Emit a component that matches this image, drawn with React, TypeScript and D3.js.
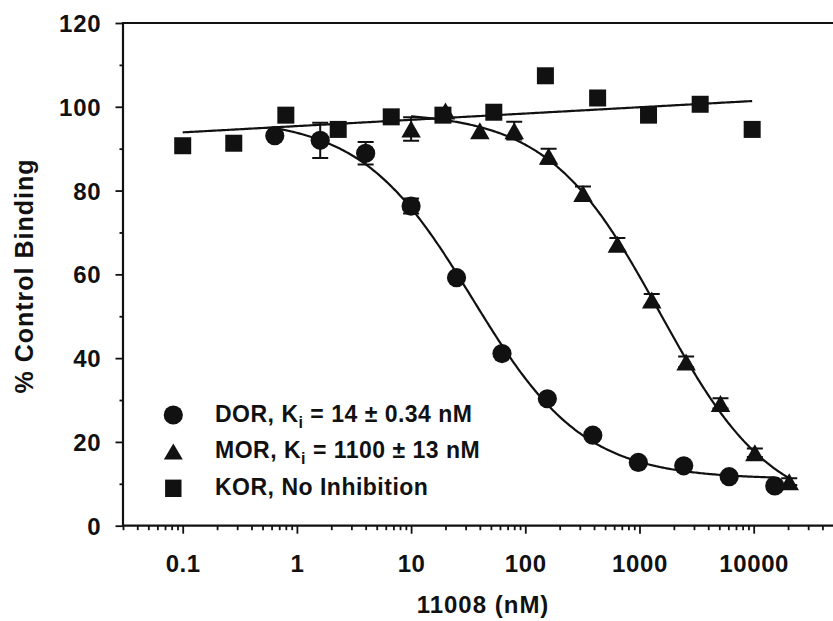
import React, { useEffect, useRef } from "react";
import * as d3 from "d3";

// concentrations (nM) and % control binding
const dorConc = [0.64, 1.6, 4, 10, 25, 62.5, 156, 390, 977, 2440, 6100, 15300];
const dorBinding = [93.1, 92.0, 88.9, 76.3, 59.2, 41.1, 30.3, 21.6, 15.1, 14.3, 11.7, 9.5];
const dorErr = [0, 4.2, 2.7, 1.8, 0, 0, 0, 0, 0, 0, 0, 0];

const morConc = [10, 20, 40, 80, 160, 320, 640, 1280, 2560, 5120, 10240, 20480];
const morBinding = [94.7, 99.0, 94.3, 94.3, 88.2, 79.3, 67.2, 53.9, 39.1, 29.2, 17.4, 10.5];
const morErr = [2.8, 0, 0, 2.1, 1.8, 1.7, 1.5, 1.4, 1.3, 1.2, 1.0, 0.8];

const korConc = [0.1, 0.28, 0.8, 2.3, 6.7, 19, 53, 150, 430, 1200, 3400, 9700];
const korBinding = [90.7, 91.3, 98.0, 94.6, 97.6, 98.0, 98.7, 107.4, 102.1, 98.0, 100.6, 94.6];

const xTicks = [0.1, 1, 10, 100, 1000, 10000];
const xTickLabels = ["0.1", "1", "10", "100", "1000", "10000"];
const yTicks = [0, 20, 40, 60, 80, 100, 120];
const yMinorTicks = [10, 30, 50, 70, 90, 110];

const legendNames = ["DOR, K", "MOR, K", "KOR, No Inhibition"];
const legendTails = [" = 14 ± 0.34 nM", " = 1100 ± 13 nM", ""];

const FONT = "'Liberation Sans', Arial, Helvetica, sans-serif";
const INK = "#111";

// 4-parameter logistic, least squares by grid over (logIC50, hill); top/bottom solved linearly
function fitSigmoid(xs: number[], ys: number[]) {
  const lx = xs.map(Math.log10);
  const n = xs.length;
  const lo = d3.min(lx) as number;
  const hi = d3.max(lx) as number;
  let best = { sse: Infinity, c: 0, h: 1, b: 0, t: 100 };
  let my = 0;
  for (let i = 0; i < n; i++) my += ys[i] / n;
  for (let c = lo; c <= hi; c += 0.005) {
    for (let h = 0.3; h <= 3; h += 0.01) {
      const f = lx.map((l) => 1 / (1 + Math.pow(10, h * (l - c))));
      let mf = 0;
      for (let i = 0; i < n; i++) mf += f[i] / n;
      let sff = 0;
      let sfy = 0;
      for (let i = 0; i < n; i++) {
        sff += (f[i] - mf) * (f[i] - mf);
        sfy += (f[i] - mf) * (ys[i] - my);
      }
      const d = sfy / sff;
      const b = my - d * mf;
      let sse = 0;
      for (let i = 0; i < n; i++) {
        const r = ys[i] - (b + d * f[i]);
        sse += r * r;
      }
      if (sse < best.sse) best = { sse, c, h, b, t: b + d };
    }
  }
  return (x: number) => best.b + (best.t - best.b) / (1 + Math.pow(10, best.h * (Math.log10(x) - best.c)));
}

// straight line in log-x
function fitLogLine(xs: number[], ys: number[]) {
  const lx = xs.map(Math.log10);
  const mx = d3.mean(lx) as number;
  const my = d3.mean(ys) as number;
  let sxx = 0;
  let sxy = 0;
  lx.forEach((l, i) => {
    sxx += (l - mx) ** 2;
    sxy += (l - mx) * (ys[i] - my);
  });
  const slope = sxy / sxx;
  return (x: number) => my + slope * (Math.log10(x) - mx);
}

function App() {
  const svgRef = useRef<SVGSVGElement>(null);

  useEffect(() => {
    const W = 833;
    const H = 621;
    const left = 123;
    const right = 833.5;
    const top = 23;
    const bottom = 525.7;

    d3.select(svgRef.current).selectAll("*").remove();
    const svg = d3.select(svgRef.current).attr("width", W).attr("height", H);

    const x = d3.scaleLog().domain([0.03, 50000]).range([left, right]);
    const y = d3.scaleLinear().domain([0, 120]).range([bottom, top]);

    // minor x ticks: 2..9 of each decade
    const xMinor: number[] = [];
    for (let e = -2; e <= 4; e++) {
      for (let k = 2; k <= 9; k++) {
        const v = k * Math.pow(10, e);
        if (v >= 0.03 && v <= 50000) xMinor.push(v);
      }
    }

    const xAxisMajor = d3
      .axisBottom(x)
      .tickValues(xTicks)
      .tickSize(8)
      .tickPadding(21)
      .tickFormat((d, i) => xTickLabels[i]);
    const xAxisMinor = d3.axisBottom(x).tickValues(xMinor).tickSize(4.5).tickFormat(() => "");

    const gxMinor = svg.append("g").attr("transform", `translate(0,${bottom})`).call(xAxisMinor);
    const gx = svg.append("g").attr("transform", `translate(0,${bottom})`).call(xAxisMajor);
    [gx, gxMinor].forEach((g) => {
      g.select(".domain").remove();
      g.selectAll("line").attr("stroke", INK).attr("stroke-width", 1.8);
    });
    gx.selectAll("text")
      .attr("fill", INK)
      .style("font-family", FONT)
      .style("font-weight", "bold")
      .style("font-size", "24px")
      .style("letter-spacing", "0.6px");

    const yAxisMajor = d3.axisLeft(y).tickValues(yTicks).tickSize(7.5).tickPadding(14);
    const yAxisMinor = d3.axisLeft(y).tickValues(yMinorTicks).tickSize(3.5).tickFormat(() => "");
    const gyMinor = svg.append("g").attr("transform", `translate(${left},0)`).call(yAxisMinor);
    const gy = svg.append("g").attr("transform", `translate(${left},0)`).call(yAxisMajor);
    [gy, gyMinor].forEach((g) => {
      g.select(".domain").remove();
      g.selectAll("line").attr("stroke", INK).attr("stroke-width", 1.8);
    });
    gy.selectAll("text")
      .attr("fill", INK)
      .attr("dy", "0.36em")
      .style("font-family", FONT)
      .style("font-weight", "bold")
      .style("font-size", "24px")
      .style("letter-spacing", "0.8px");

    // axis lines and top frame
    svg
      .append("path")
      .attr("d", `M${right + 2},${top} H${left} V${bottom} H${right + 2}`)
      .attr("fill", "none")
      .attr("stroke", INK)
      .attr("stroke-width", 2.2);

    // fitted curves
    const line = d3
      .line<[number, number]>()
      .x((d) => x(d[0]))
      .y((d) => y(d[1]));

    const sample = (fn: (v: number) => number, x0: number, x1: number) => {
      const l0 = Math.log10(x0);
      const l1 = Math.log10(x1);
      return d3.range(0, 301).map((i) => {
        const v = Math.pow(10, l0 + ((l1 - l0) * i) / 300);
        return [v, fn(v)] as [number, number];
      });
    };

    const korFit = fitLogLine(korConc, korBinding);
    const dorFit = fitSigmoid(dorConc, dorBinding);
    const morFit = fitSigmoid(morConc, morBinding);

    const fits: [(v: number) => number, number[]][] = [
      [korFit, korConc],
      [dorFit, dorConc],
      [morFit, morConc],
    ];
    fits.forEach(([fn, xs]) => {
      svg
        .append("path")
        .attr("d", line(sample(fn, xs[0], xs[xs.length - 1])))
        .attr("fill", "none")
        .attr("stroke", INK)
        .attr("stroke-width", 2.2);
    });

    // error bars
    const errs: [number[], number[], number[]][] = [
      [dorConc, dorBinding, dorErr],
      [morConc, morBinding, morErr],
    ];
    errs.forEach(([xs, ys, es]) => {
      xs.forEach((xv, i) => {
        if (!es[i]) return;
        const cx = x(xv);
        const y0 = y(ys[i] - es[i]);
        const y1 = y(ys[i] + es[i]);
        svg
          .append("path")
          .attr("d", `M${cx},${y0} V${y1} M${cx - 8},${y0} H${cx + 8} M${cx - 8},${y1} H${cx + 8}`)
          .attr("stroke", INK)
          .attr("stroke-width", 2)
          .attr("fill", "none");
      });
    });

    const tri = (cx: number, cy: number, w: number, h: number) =>
      `M${cx},${cy - h / 2} L${cx + w / 2},${cy + h / 2} L${cx - w / 2},${cy + h / 2} Z`;

    // markers
    svg
      .append("g")
      .selectAll("rect")
      .data(korConc)
      .join("rect")
      .attr("x", (d) => x(d) - 8.5)
      .attr("y", (d, i) => y(korBinding[i]) - 8.5)
      .attr("width", 17)
      .attr("height", 17)
      .attr("fill", INK);

    svg
      .append("g")
      .selectAll("circle")
      .data(dorConc)
      .join("circle")
      .attr("cx", (d) => x(d))
      .attr("cy", (d, i) => y(dorBinding[i]))
      .attr("r", 9.6)
      .attr("fill", INK);

    svg
      .append("g")
      .selectAll("path")
      .data(morConc)
      .join("path")
      .attr("d", (d, i) => tri(x(d), y(morBinding[i]), 19.5, 17))
      .attr("fill", INK);

    // legend
    const legendX = 173.3;
    const legendY = [415, 451.5, 488.3];
    const lg = svg.append("g");
    lg.append("circle").attr("cx", legendX).attr("cy", legendY[0]).attr("r", 9.6).attr("fill", INK);
    lg.append("path").attr("d", tri(legendX, legendY[1], 19, 16)).attr("fill", INK);
    lg.append("rect")
      .attr("x", legendX - 8.2)
      .attr("y", legendY[2] - 8.7)
      .attr("width", 16.4)
      .attr("height", 17.4)
      .attr("fill", INK);

    legendNames.forEach((name, i) => {
      const t = lg
        .append("text")
        .attr("x", 215)
        .attr("y", legendY[i] + 6.8)
        .attr("fill", INK)
        .style("font-family", FONT)
        .style("font-weight", "bold")
        .style("font-size", "23px")
        .style("letter-spacing", "0.5px");
      t.append("tspan").text(name);
      if (legendTails[i]) {
        t.append("tspan").attr("dy", 6).style("font-size", "16px").text("i");
        t.append("tspan").attr("dy", -6).text(legendTails[i]);
      }
    });

    // axis titles
    svg
      .append("text")
      .attr("x", 483)
      .attr("y", 613)
      .attr("text-anchor", "middle")
      .attr("fill", INK)
      .style("font-family", FONT)
      .style("font-weight", "bold")
      .style("font-size", "24px")
      .style("letter-spacing", "1px")
      .text("11008 (nM)");

    svg
      .append("text")
      .attr("transform", `translate(33,276) rotate(-90)`)
      .attr("text-anchor", "middle")
      .attr("fill", INK)
      .style("font-family", FONT)
      .style("font-weight", "bold")
      .style("font-size", "25px")
      .style("letter-spacing", "1px")
      .text("% Control Binding");
  }, []);

  return (
    <div>
      <svg ref={svgRef} style={{ position: "absolute", left: 0, top: 0, background: "#fff" }}></svg>
    </div>
  );
}

export default App;
